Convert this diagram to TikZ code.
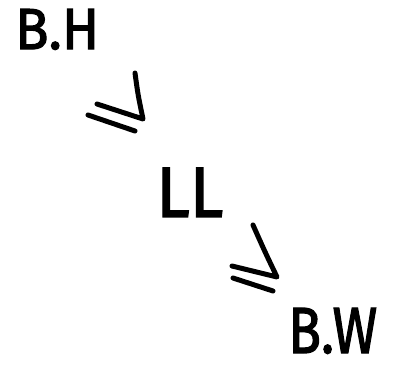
\documentclass[tikz,border=0pt]{standalone}
\usepackage{fontspec}
\usepackage{graphicx}
\setmainfont{Fira Sans}
\newfontfamily\handfont{Fira Sans}[FakeBold=2]
\begin{document}
\begin{tikzpicture}[x=1pt,y=-1pt,
  hand/.style={inner sep=0pt, anchor=south west, font=\handfont},
  rel/.style={line width=5pt, line cap=round, line join=round}]
\useasboundingbox (0,0) rectangle (394,366);
\node[hand] (bh) at (15,50) {\resizebox{84pt}{40pt}{B.H}};
\node[hand] (ll) at (156,217) {\resizebox{67pt}{49pt}{LL}};
\node[hand] (bw) at (288,354) {\resizebox{89pt}{45pt}{B.W}};
% first relation sign
\draw[rel] (135,73) .. controls (138,95) .. (143,119) -- (97,104);
\draw[rel] (88,115) -- (135,131);
% second relation sign
\draw[rel] (253,225) .. controls (265,252) .. (277,277) -- (232,266);
\draw[rel] (233,278) -- (273,291);
\end{tikzpicture}
\end{document}
